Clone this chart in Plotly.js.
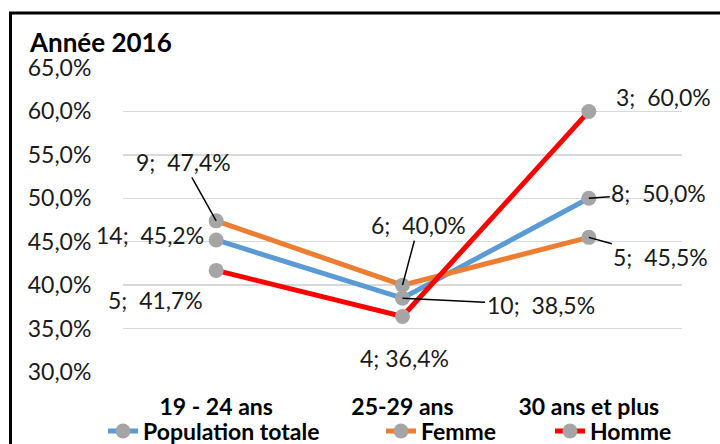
<!DOCTYPE html>
<html>
<head>
<meta charset="utf-8">
<script src="https://cdn.plot.ly/plotly-3.0.1.min.js"></script>
<style>html,body{margin:0;padding:0;background:#fff;}#chart{width:720px;height:444px;}</style>
</head>
<body>
<div id="chart"></div>
<script>
// ---- data ----
const categories = ["19 - 24 ans", "25-29 ans", "30 ans et plus"];
const seriesNames = ["Population totale", "Femme", "Homme"];
const popValues = [45.2, 38.5, 50.0];
const femmeValues = [47.4, 40.0, 45.5];
const hommeValues = [41.7, 36.4, 60.0];
const popCounts = [14, 10, 8];
const femmeCounts = [9, 6, 5];
const hommeCounts = [5, 4, 3];
const yTickValues = [30, 35, 40, 45, 50, 55, 60, 65];

// ---- styles ----
const colors = ["#5B9BD5", "#ED7D31", "#FF0000"];
const FONT = "Lato, 'Open Sans', sans-serif";
const values = [popValues, femmeValues, hommeValues];
const counts = [popCounts, femmeCounts, hommeCounts];
// label offsets (px) and whether a leader line is drawn
const labelOffsets = [
  [[-66, -5, false], [138, 7, true], [70, -5, true]],
  [[-33, -59, true], [16, -60, true], [72, 20, true]],
  [[-61, 30, false], [2, 42, false], [75, -14, false]]
];
const spaceAfter = [
  ["\u00a0 ", "\u00a0 ", "\u00a0 "],
  ["\u00a0 ", "\u00a0 ", "\u00a0 "],
  ["\u00a0 ", " ", "\u00a0 "]
];

const fmt = v => v.toFixed(1).replace(".", ",") + "%";

const traces = seriesNames.map((name, i) => ({
  type: "scatter",
  mode: "lines+markers",
  name: name,
  x: categories,
  y: values[i],
  line: {color: colors[i], width: 5},
  marker: {color: "#A5A5A5", size: 15},
  legend: i === 0 ? "legend" : "legend" + (i + 1),
  hoverinfo: "skip"
}));

const annotations = [];
seriesNames.forEach((name, i) => {
  categories.forEach((c, j) => {
    const o = labelOffsets[i][j];
    annotations.push({
      x: c, y: values[i][j], xref: "x", yref: "y",
      text: counts[i][j] + ";" + spaceAfter[i][j] + fmt(values[i][j]),
      showarrow: true, arrowhead: 0, arrowwidth: 1.5,
      arrowcolor: o[2] ? "#000" : "rgba(0,0,0,0)",
      ax: o[0], ay: o[1], standoff: 0,
      font: {family: FONT, size: 23, color: "#1a1a1a"}
    });
  });
});

// px -> paper helpers for the frame
const L = 123, R = 682, T = 68, B = 372;
const px = v => (v - L) / (R - L);
const py = v => (B - v) / (B - T);

const legendBase = {
  orientation: "h", xref: "container", yref: "container",
  yanchor: "middle", xanchor: "left",
  font: {family: FONT, size: 23, color: "#000", weight: "bold"},
  bgcolor: "rgba(0,0,0,0)", borderwidth: 0
};
const legendY = 1 - 431 / 444;

const layout = {
  width: 720, height: 444,
  margin: {l: L, r: 720 - R, t: T, b: 444 - B},
  paper_bgcolor: "#fff", plot_bgcolor: "#fff",
  font: {family: FONT, color: "#1a1a1a"},
  title: {
    text: "<b>Année 2016</b>",
    font: {family: FONT, size: 26, color: "#000"},
    xref: "container", yref: "container",
    x: 30 / 720, xanchor: "left", y: 1 - 43 / 444, yanchor: "middle"
  },
  xaxis: {
    type: "category", range: [-0.5, 2.5],
    showgrid: false, zeroline: false, showline: false,
    ticks: "outside", ticklen: 14, tickcolor: "rgba(0,0,0,0)",
    tickfont: {family: FONT, size: 23, color: "#000", weight: "bold"},
    fixedrange: true
  },
  yaxis: {
    range: [30, 65], tickvals: yTickValues,
    ticktext: yTickValues.map(v => v.toFixed(1).replace(".", ",") + "%"),
    showgrid: true, gridcolor: "#D9D9D9", gridwidth: 1.5,
    zeroline: false, showline: false,
    ticks: "outside", ticklen: 26, tickcolor: "rgba(0,0,0,0)",
    tickfont: {family: FONT, size: 23, color: "#1a1a1a"},
    fixedrange: true
  },
  showlegend: true,
  legend: Object.assign({}, legendBase, {x: 103 / 720, y: legendY}),
  legend2: Object.assign({}, legendBase, {x: 381 / 720, y: legendY}),
  legend3: Object.assign({}, legendBase, {x: 550 / 720, y: legendY}),
  annotations: annotations,
  shapes: [{
    type: "rect", xref: "paper", yref: "paper",
    x0: px(10.5), x1: px(724), y0: py(448), y1: py(13),
    line: {color: "#000", width: 3}, fillcolor: "rgba(0,0,0,0)", layer: "above"
  }]
};

Plotly.newPlot("chart", traces, layout, {displayModeBar: false, staticPlot: true});
</script>
</body>
</html>
